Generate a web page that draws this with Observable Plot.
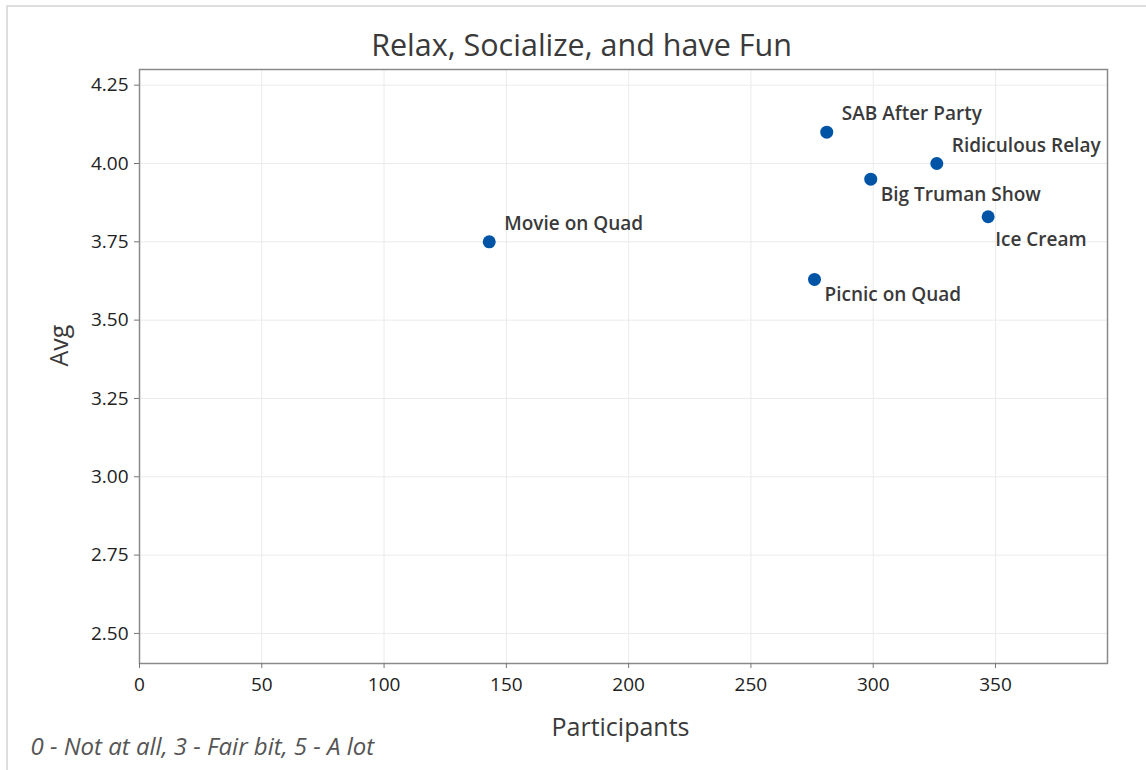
<!DOCTYPE html>
<html>
<head>
<meta charset="utf-8">
<script src="https://cdn.jsdelivr.net/npm/d3@7"></script>
<script src="https://cdn.jsdelivr.net/npm/@observablehq/plot@0.6"></script>
<style>
  html, body { margin: 0; padding: 0; background: #fff; }
  #wrap { position: relative; width: 1146px; height: 770px; overflow: hidden; }
  #border { position: absolute; left: 6px; top: 5px; right: 0; bottom: 0;
            border-top: 2px solid #dedede; border-left: 2px solid #dedede; }
  #chart { position: absolute; left: 0; top: 0; }
</style>
</head>
<body>
<div id="wrap"><div id="border"></div><div id="chart"></div></div>
<script>
const events = ["Movie on Quad", "Picnic on Quad", "SAB After Party", "Big Truman Show", "Ridiculous Relay", "Ice Cream"];
const participants = [143, 276, 281, 299, 326, 347];
const avg = [3.75, 3.63, 4.10, 3.95, 4.00, 3.83];
const xTicks = [0, 50, 100, 150, 200, 250, 300, 350];
const yTicks = [2.50, 2.75, 3.00, 3.25, 3.50, 3.75, 4.00, 4.25];
const title = "Relax, Socialize, and have Fun";
const xLabel = "Participants";
const yLabel = "Avg";
const caption = "0 - Not at all, 3 - Fair bit, 5 - A lot";

const data = events.map((e, i) => ({event: e, participants: participants[i], avg: avg[i]}));
const aboveSet = new Set(["Movie on Quad", "SAB After Party", "Ridiculous Relay"]);
const farBelowSet = new Set(["Ice Cream"]);
const above = data.filter(d => aboveSet.has(d.event));
const below = data.filter(d => !aboveSet.has(d.event) && !farBelowSet.has(d.event));
const farBelow = data.filter(d => farBelowSet.has(d.event));

const FONT = "'Open Sans', 'Noto Sans', sans-serif";
const BLUE = "#0054a6";
const LBL = {textAnchor: "start", fontSize: 19, fontWeight: 600, fill: "#3a3a3a"};

const chart = Plot.plot({
  width: 1146,
  height: 770,
  marginLeft: 139,
  marginRight: 39,
  marginTop: 69,
  marginBottom: 107,
  style: {fontFamily: FONT, fontSize: "19px", background: "transparent", overflow: "visible"},
  x: {domain: [0, 395.8], ticks: xTicks},
  y: {domain: [2.404, 4.30], ticks: yTicks},
  marks: [
    Plot.gridX(xTicks, {stroke: "#ebebeb", strokeOpacity: 1, strokeWidth: 1}),
    Plot.gridY(yTicks, {stroke: "#ebebeb", strokeOpacity: 1, strokeWidth: 1}),
    Plot.frame({stroke: "#8a8a8a", strokeWidth: 1.5}),
    Plot.axisX(xTicks, {tickSize: 5, tickPadding: 9, fontSize: 19, color: "#222", stroke: "#777", label: null, tickFormat: d3.format("d")}),
    Plot.axisY(yTicks, {tickSize: 5, tickPadding: 6, fontSize: 19, color: "#222", stroke: "#777", label: null, tickFormat: d3.format(".2f")}),
    Plot.dot(data, {x: "participants", y: "avg", r: 6.5, fill: BLUE, stroke: null}),
    Plot.text(above, {x: "participants", y: "avg", text: "event", dx: 15, dy: -18, ...LBL}),
    Plot.text(below, {x: "participants", y: "avg", text: "event", dx: 10, dy: 16, ...LBL}),
    Plot.text(farBelow, {x: "participants", y: "avg", text: "event", dx: 7, dy: 23, ...LBL}),
    Plot.text([title], {text: d => d, frameAnchor: "top", lineAnchor: "middle", dx: -42, dy: -23, fontSize: 30.5, fill: "#3a3a3a"}),
    Plot.text([xLabel], {text: d => d, frameAnchor: "bottom", lineAnchor: "middle", dx: -3, dy: 64, fontSize: 25, fill: "#3a3a3a"}),
    Plot.text([yLabel], {text: d => d, frameAnchor: "left", lineAnchor: "middle", rotate: -90, dx: -80, fontSize: 25, fill: "#3a3a3a"}),
    Plot.text([caption], {text: d => d, frameAnchor: "bottom-left", lineAnchor: "middle", textAnchor: "start", dx: -109, dy: 84, fontSize: 24, fontStyle: "italic", fill: "#555"})
  ]
});
document.getElementById("chart").appendChild(chart);
</script>
</body>
</html>
